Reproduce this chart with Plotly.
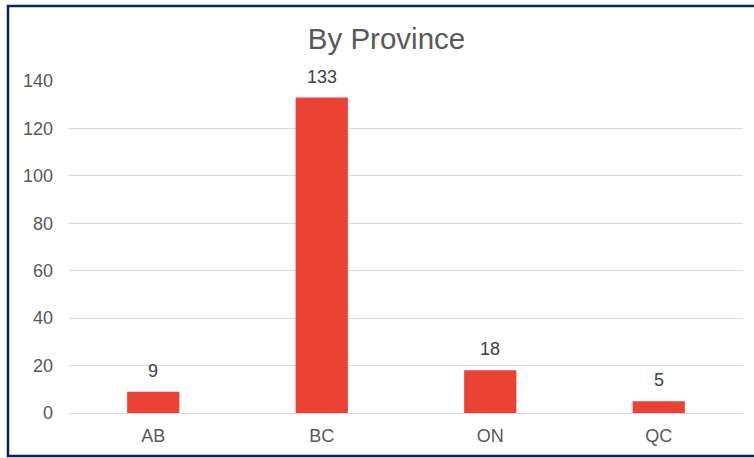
import plotly.graph_objects as go

provinces = ["AB", "BC", "ON", "QC"]
counts = [9, 133, 18, 5]
y_ticks = [0, 20, 40, 60, 80, 100, 120, 140]

W, H = 754, 458
L, R, T, B = 69, 11, 81, 45
pw, ph = W - L - R, H - T - B

def px_x(px):
    return (px - L) / pw

def px_y(py):
    return (H - B - py) / ph

FONT = "Liberation Sans, Arial, sans-serif"
GRAY = "#595959"

fig = go.Figure(go.Bar(
    x=provinces, y=counts,
    marker=dict(color="#EA4335", line=dict(width=0)),
    hoverinfo="skip",
))

for p, c in zip(provinces, counts):
    fig.add_annotation(x=p, y=c, text=str(c), showarrow=False,
                       yanchor="bottom", yshift=9,
                       font=dict(family=FONT, size=18, color="#404040"))

fig.add_shape(type="rect", xref="paper", yref="paper",
              x0=px_x(8), x1=px_x(758), y0=px_y(456), y1=px_y(6),
              line=dict(color="#0B2563", width=2.5), fillcolor="rgba(0,0,0,0)",
              layer="above")

fig.update_layout(
    width=W, height=H,
    margin=dict(l=L, r=R, t=T, b=B),
    paper_bgcolor="white", plot_bgcolor="white",
    bargap=0.69,
    showlegend=False,
    title=dict(text="By Province", x=386.5 / W, xanchor="center",
               y=1 - 39 / H, yanchor="middle",
               font=dict(family=FONT, size=29.5, color=GRAY)),
    font=dict(family=FONT, color=GRAY, size=18),
    xaxis=dict(showgrid=False, showline=False, ticks="",
               tickfont=dict(family=FONT, size=18, color=GRAY),
               ticklabelstandoff=10),
    yaxis=dict(range=[0, 140], tickvals=y_ticks,
               showgrid=True, gridcolor="#D9D9D9", gridwidth=1,
               zeroline=True, zerolinecolor="#D9D9D9", zerolinewidth=1,
               showline=False, ticks="",
               tickfont=dict(family=FONT, size=18, color=GRAY),
               ticklabelstandoff=15),
)

fig.write_html(
    "out.html",
    config={"displayModeBar": False},
    post_script="document.body.style.margin='0';document.body.style.overflow='hidden';",
)
